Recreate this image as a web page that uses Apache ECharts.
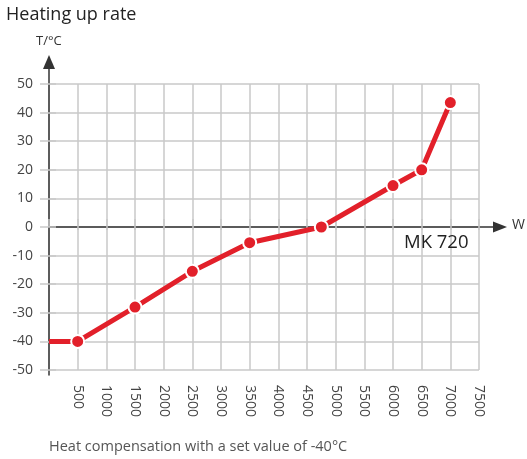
<!DOCTYPE html>
<html>
<head>
<meta charset="utf-8">
<script src="https://cdn.jsdelivr.net/npm/echarts@6/dist/echarts.min.js"></script>
<style>
  html, body { margin: 0; padding: 0; background: #fff; }
  #chart { width: 527px; height: 459px; }
</style>
</head>
<body>
<div id="chart"></div>
<script>
// Heating up rate of the MK 720: temperature reached vs. heat compensation power
const powerW = [0, 500, 1500, 2500, 3500, 4750, 6000, 6500, 7000];
const tempC = [-40, -40, -28, -15.5, -5.5, 0, 14.5, 20, 43.5];

const xMin = 0, xMax = 7500, xStep = 500;
const yMin = -50, yMax = 50, yStep = 10;

const FONT = '"Open Sans", "Noto Sans", sans-serif';
const GRID_GREY = '#c9c9c9';
const AXIS_DARK = '#333';
const RED = '#e2202a';

const lineData = powerW.map((w, i) => {
  const item = { value: [w, tempC[i]] };
  if (i === 0) item.symbol = 'none';
  return item;
});

function txt(size, color) {
  return { fontSize: size, fontWeight: 'normal', color: color, fontFamily: FONT };
}

const chart = echarts.init(document.getElementById('chart'), null, { renderer: 'canvas' });

chart.setOption({
  animation: false,
  backgroundColor: '#fff',
  textStyle: { fontFamily: FONT },
  title: [
    { text: 'Heating up rate', left: 6, top: 6, padding: 0, textStyle: txt(18, '#222') },
    { text: 'T/°C', left: 36, top: 35, padding: 0, textStyle: txt(13, '#333') },
    { text: 'W', left: 512, top: 218, padding: 0, textStyle: txt(14, '#333') },
    { text: 'MK 720', left: 404, top: 233, padding: 0, textStyle: txt(18.5, '#222') },
    { text: 'Heat compensation with a set value of -40°C', left: 49, top: 439, padding: 0,
      textStyle: txt(14.5, '#555') }
  ],
  grid: [
    // plotting area
    { left: 49, right: 48, top: 84, bottom: 89 },
    // horizontal axis through zero, with arrow
    { left: 49, right: 27, top: 84, bottom: 89 },
    // vertical axis with arrow
    { left: 49, right: 48, top: 62, bottom: 84 }
  ],
  xAxis: [
    {
      type: 'value', gridIndex: 0, position: 'bottom',
      min: xMin, max: xMax, interval: xStep,
      axisLine: { show: false },
      axisTick: { show: true, length: 3, lineStyle: { color: GRID_GREY, width: 1.5 } },
      splitLine: { show: true, lineStyle: { color: GRID_GREY, width: 1.5 } },
      axisLabel: { rotate: -90, margin: 15, fontSize: 14, color: '#444', fontFamily: FONT,
                   showMinLabel: false, formatter: (v) => String(v) }
    },
    {
      type: 'value', gridIndex: 0, position: 'top',
      min: xMin, max: xMax, interval: xStep,
      axisLine: { show: false },
      axisTick: { show: true, length: 8, lineStyle: { color: GRID_GREY, width: 1.5 } },
      splitLine: { show: false },
      axisLabel: { show: false }
    },
    {
      type: 'value', gridIndex: 1, min: 0, max: 1,
      axisLine: { show: true, onZero: true, symbol: ['none', 'triangle'], symbolSize: [11, 14],
                  lineStyle: { color: AXIS_DARK, width: 1.5 } },
      axisTick: { show: false }, splitLine: { show: false }, axisLabel: { show: false }
    },
    {
      type: 'value', gridIndex: 2, min: 0, max: 1, show: false
    }
  ],
  yAxis: [
    {
      type: 'value', gridIndex: 0, position: 'left',
      min: yMin, max: yMax, interval: yStep,
      axisLine: { show: false },
      axisTick: { show: true, length: 9, lineStyle: { color: GRID_GREY, width: 1.5 } },
      splitLine: { show: true, lineStyle: { color: GRID_GREY, width: 1.5 } },
      axisLabel: { margin: 16, fontSize: 14, color: '#444', fontFamily: FONT }
    },
    {
      type: 'value', gridIndex: 0, position: 'right',
      min: yMin, max: yMax, interval: yStep,
      axisLine: { show: false },
      axisTick: { show: true, length: 7, lineStyle: { color: GRID_GREY, width: 1.5 } },
      splitLine: { show: false },
      axisLabel: { show: false }
    },
    {
      type: 'value', gridIndex: 1, min: yMin, max: yMax, show: false
    },
    {
      type: 'value', gridIndex: 2, min: 0, max: 1, position: 'left',
      axisLine: { show: true, onZero: false, symbol: ['none', 'triangle'], symbolSize: [12, 14],
                  lineStyle: { color: AXIS_DARK, width: 1.5 } },
      axisTick: { show: false }, splitLine: { show: false }, axisLabel: { show: false }
    }
  ],
  series: [
    {
      name: 'MK 720',
      type: 'line',
      xAxisIndex: 0, yAxisIndex: 0,
      data: lineData,
      symbol: 'circle',
      symbolSize: 13,
      lineStyle: { color: RED, width: 5 },
      itemStyle: { color: RED, borderColor: '#fff', borderWidth: 2 },
      z: 5
    }
  ]
});
</script>
</body>
</html>
